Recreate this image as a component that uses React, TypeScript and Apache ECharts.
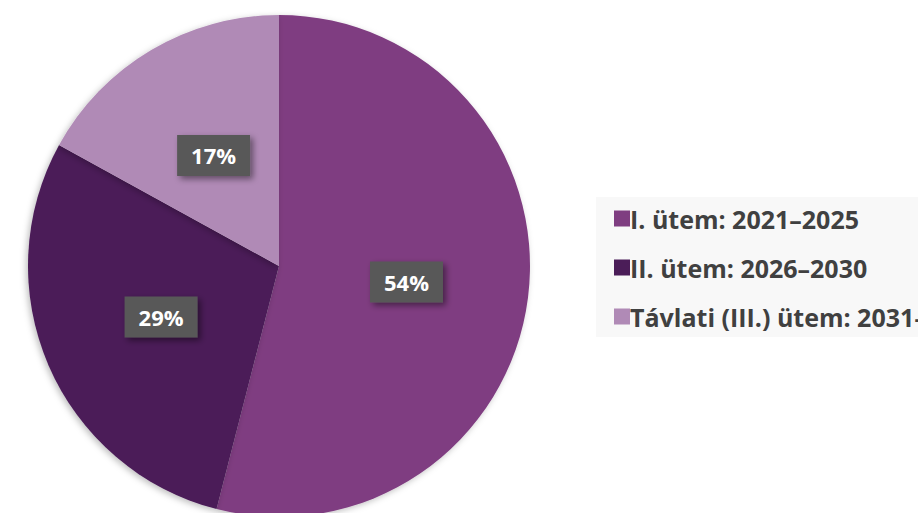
import React, { useEffect, useRef } from "react";
import * as echarts from "echarts";

const categories = ["I. ütem: 2021–2025", "II. ütem: 2026–2030", "Távlati (III.) ütem: 2031–2040"];
const values = [54, 29, 17];
const colors = ["#7f3e81", "#4b1d58", "#b08ab6"];

export default function App() {
  const ref = useRef<HTMLDivElement>(null);
  useEffect(() => {
    document.body.style.margin = "0";
    const chart = echarts.init(ref.current!, undefined, { renderer: "svg" });
    chart.setOption({
      animation: false,
      backgroundColor: "#ffffff",
      graphic: [
        {
          type: "rect",
          shape: { x: 596, y: 197, width: 330, height: 140 },
          style: { fill: "#f8f8f8" },
          z: -1,
        },
      ],
      legend: {
        orient: "vertical",
        left: 609,
        top: 201,
        itemWidth: 16,
        itemHeight: 16,
        itemGap: 24,
        icon: "rect",
        data: categories,
        textStyle: {
          fontFamily: "Open Sans",
          fontWeight: "bold",
          fontSize: 25,
          color: "#404040",
          padding: [0, 0, 0, -5],
        },
      },
      series: [
        {
          type: "pie",
          center: [279, 266],
          radius: [0, 251],
          startAngle: 90,
          clockwise: true,
          data: categories.map((c, i) => ({
            name: c,
            value: values[i],
            itemStyle: { color: colors[i] },
          })),
          itemStyle: {
            shadowBlur: 6,
            shadowColor: "rgba(0,0,0,0.25)",
            shadowOffsetX: -2,
            shadowOffsetY: 2,
          },
          label: {
            show: true,
            position: "inside",
            formatter: "{c}%",
            fontFamily: "Open Sans",
            fontWeight: "bold",
            fontSize: 22,
            color: "#ffffff",
            backgroundColor: "#595959",
            padding: [10, 14, 9, 14],
            shadowColor: "rgba(0,0,0,0.45)",
            shadowBlur: 6,
            shadowOffsetX: 3,
            shadowOffsetY: 3,
          },
          labelLine: { show: false },
          emphasis: { disabled: true },
        },
      ],
    });
    return () => chart.dispose();
  }, []);
  return <div ref={ref} style={{ position: "absolute", left: 0, top: 0, width: 918, height: 513 }} />;
}
